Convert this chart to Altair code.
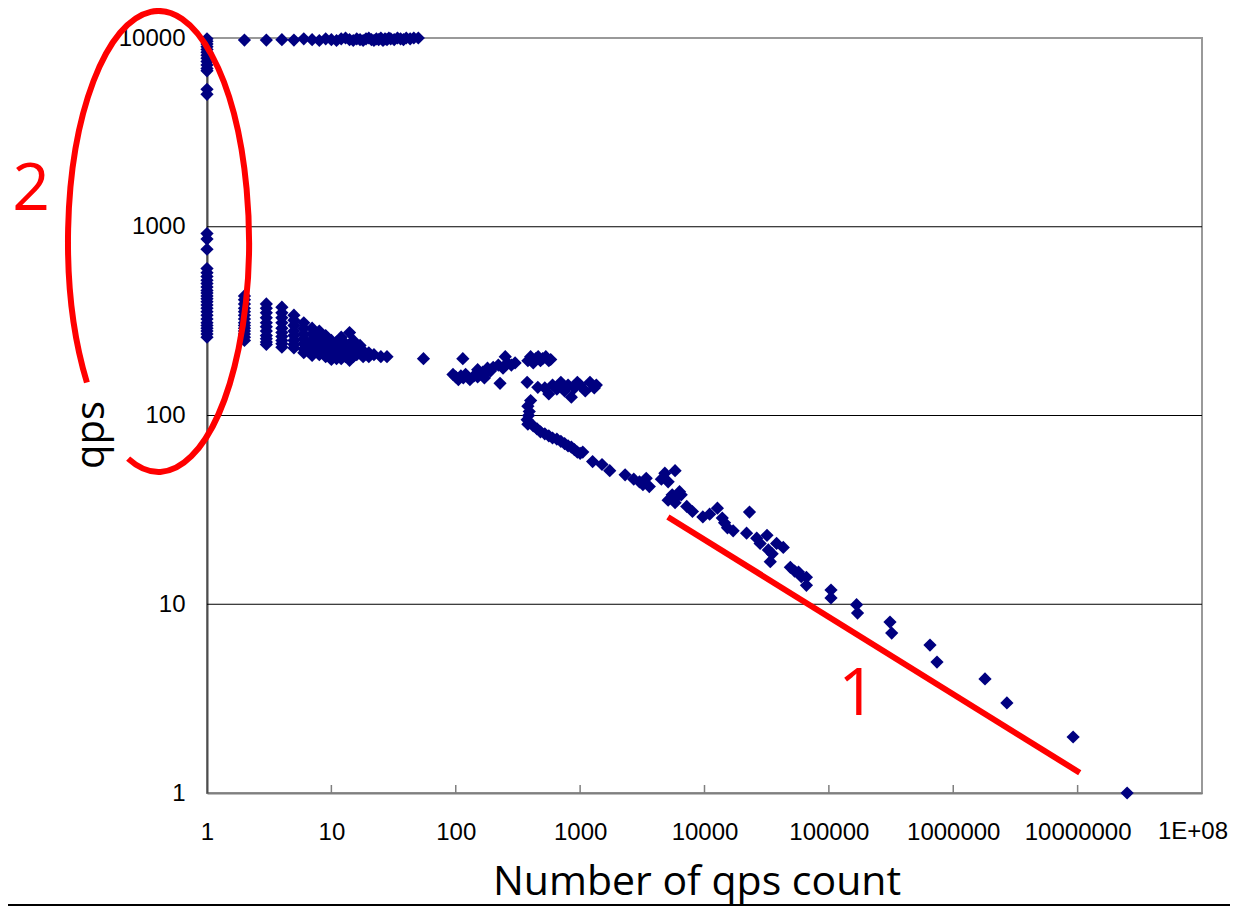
import altair as alt
import pandas as pd

# ---------------- data ----------------
# top band (qps near 10000)
top_x = [1, 1, 1, 1, 1, 1, 1, 1, 1, 1, 1, 1, 1, 1,
         2, 3, 4, 5, 6, 7, 8, 9, 10, 11, 12, 13, 14, 15, 16, 17, 18, 19, 20,
         21, 22, 23, 24, 25, 26, 27, 28, 29, 30, 32, 34, 36, 38, 40, 43, 46, 50]
top_y = [9900, 9600, 9300, 9000, 8700, 8400, 8100, 7800, 7500, 7200, 6900, 6700, 5350, 5030,
         9750, 9750, 9800, 9750, 9900, 9800, 9700, 9900, 9800, 9700, 9900, 10000, 9800, 9700, 9900, 9800, 9700, 9900, 10000,
         9800, 9700, 9900, 9800, 10000, 9700, 9900, 9800, 10000, 9900, 9800, 10000, 9900, 9800, 10000, 9900, 10000, 10000]

# low-count band (count 1 .. 55)
low_x = ([1] * 25 + [2] * 14 + [3] * 11 + [4] * 10 + [5] * 8 + [6] * 7 + [7] * 6 + [8] * 5
         + [9] * 5 + [10] * 5 + [11] * 4 + [12] * 4 + [13] * 3 + [14] * 4 + [15] * 3
         + [16] * 2 + [17] * 2 + [18] * 2 + [20] * 2 + [22, 25, 28, 55])
low_y = ([920, 860, 760, 600, 570, 545, 520, 500, 480, 460, 445, 430, 415, 400, 385, 370, 355, 340,
          325, 310, 300, 290, 280, 270, 260]
         + [430, 410, 390, 370, 355, 340, 325, 310, 300, 290, 280, 270, 260, 250]
         + [390, 370, 350, 330, 310, 295, 280, 265, 255, 245, 238]
         + [375, 350, 330, 310, 290, 275, 262, 250, 240, 230]
         + [340, 320, 300, 280, 265, 250, 238, 228]
         + [310, 290, 270, 255, 240, 225, 215]
         + [290, 270, 250, 235, 220, 208]
         + [280, 260, 240, 225, 210]
         + [265, 245, 230, 215, 205]
         + [250, 235, 220, 208, 198]
         + [245, 225, 210, 200]
         + [260, 235, 215, 200]
         + [240, 220, 205]
         + [275, 230, 210, 196]
         + [250, 225, 205]
         + [225, 210]
         + [235, 215]
         + [220, 205]
         + [215, 205]
         + [210, 205, 205, 200])

# middle region (count 100 .. 1400)
mid_x = [114, 95, 100, 105, 110, 115, 120, 125, 130, 140, 150, 160, 170, 180, 190,
         150, 165, 180, 200, 220, 240, 260, 280, 300, 250, 227, 375, 457,
         380, 400, 420, 440, 460, 480, 500, 530, 560, 580,
         520, 560, 600, 650, 700, 750, 800, 850, 900, 950, 1000, 1100, 1200, 1300, 1350,
         400, 380, 390, 385, 375, 380, 420, 450, 480, 520, 560, 600, 650, 700, 750, 800,
         850, 900, 950, 1000]
mid_y = [200, 165, 160, 155, 162, 158, 165, 160, 155, 162, 160, 165, 158, 170, 172,
         175, 170, 178, 180, 185, 178, 190, 185, 190, 205, 148, 150, 141,
         195, 205, 190, 200, 205, 195, 200, 205, 195, 198,
         140, 130, 145, 138, 150, 135, 145, 125, 140, 150, 145, 135, 150, 140, 145,
         120, 112, 105, 100, 95, 90, 88, 85, 82, 80, 78, 76, 75, 73, 71, 69,
         68, 66, 64, 63]

# tail (count above 1000)
tail_x = [1050, 1260, 1500, 1730, 2300, 2700, 3000, 3200, 3400, 3600, 4500, 4800, 5800, 5100,
          6300, 5100, 5800, 5500, 6000, 6500, 7200, 8000, 9700, 11000, 12700, 13900, 14500,
          15300, 17000, 23000, 21800, 26300, 28000, 31800, 32600, 33800, 35000, 38000, 43000,
          49000, 53000, 57000, 60000, 66000, 66000, 104000, 104000, 167000, 170000, 310000,
          320000, 650000, 740000, 1800000, 2700000, 9200000, 25000000]
tail_y = [64, 57, 55, 51, 48.5, 46, 44.5, 43, 46.5, 42, 46, 49.5, 51, 44.5,
          39.5, 35.6, 34.5, 38, 37, 38, 33, 31, 29, 30, 32.3, 28.6, 27,
          25.4, 24.5, 30.8, 23.8, 22.4, 21, 23.2, 19.4, 16.8, 18.5, 21, 20,
          15.7, 15, 14.8, 14, 13.9, 12.6, 11.9, 10.8, 9.95, 8.98, 8.05,
          7.04, 6.08, 4.94, 4.02, 3, 1.98, 1]

x_ticks = [1, 10, 100, 1000, 10000, 100000, 1000000, 10000000, 100000000]
y_ticks = [1, 10, 100, 1000, 10000]
grid_y = [10, 100, 1000]
inner_ticks = [10, 100, 1000, 10000, 100000, 1000000, 10000000]
last_x_label = ["1E+08"]

# annotation line "1" endpoints in data units
line1_x = [5080, 10400000]
line1_y = [29, 1.28]

points = pd.DataFrame({
    "count": top_x + low_x + mid_x + tail_x,
    "qps": top_y + low_y + mid_y + tail_y,
})

W, H = 995, 755
FONT = "Open Sans"
LFONT = "Liberation Sans"

xscale = alt.Scale(type="log", domain=[1, 1e8])
yscale = alt.Scale(type="log", domain=[1, 10000])

base = alt.Chart(points)

scatter = base.mark_point(
    shape="diamond", filled=True, color="#000080", size=175, opacity=1
).encode(
    x=alt.X("count:Q", scale=xscale,
            axis=alt.Axis(values=x_ticks, title=None, grid=False, ticks=False, tickSize=0,
                          labelPadding=27, labelBaseline="top",
                          labelExpr="datum.value >= 1e8 ? '' : format(datum.value, 'd')",
                          domainColor="#7f7f7f", domainWidth=2, labelFlush=False,
                          labelOverlap=False, labelFont=LFONT,
                          labelFontSize=24, labelColor="black")),
    y=alt.Y("qps:Q", scale=yscale,
            axis=alt.Axis(values=y_ticks, title=None, grid=False, ticks=False, tickSize=0,
                          labelPadding=22, format="d", domainColor="#4d4d4d",
                          domainWidth=2, labelFlush=False, labelOverlap=False,
                          labelFont=LFONT, labelFontSize=24, labelColor="black")),
)

# last x label drawn as text so that it stays inside the page
last_label = alt.Chart(pd.DataFrame({"t": last_x_label})).mark_text(
    font=LFONT, fontSize=24, color="black", align="center", baseline="top"
).encode(text="t:N", x=alt.value(W - 9), y=alt.value(H + 27))

grid = alt.Chart(pd.DataFrame({"g": grid_y})).mark_rule(color="black", strokeWidth=1).encode(
    y=alt.Y("g:Q", scale=yscale)
)

ticks = alt.Chart(pd.DataFrame({"t": inner_ticks})).mark_rule(color="#7f7f7f", strokeWidth=1.5).encode(
    x=alt.X("t:Q", scale=xscale), y=alt.value(H), y2=alt.value(H - 8)
)

line1 = alt.Chart(pd.DataFrame({"lx": line1_x, "ly": line1_y})).mark_line(
    color="#ff0000", strokeWidth=6, strokeCap="butt"
).encode(x=alt.X("lx:Q", scale=xscale), y=alt.Y("ly:Q", scale=yscale))

# red ellipse (with a gap at lower left), as a custom symbol path
ellipse_path = "M -0.3106 0.6117 A 0.3926 1 0 1 1 -0.1317 0.942"
ellipse = alt.Chart(pd.DataFrame({"a": [0]})).mark_point(
    shape=ellipse_path, filled=False, stroke="#ff0000", strokeWidth=6, size=212521, opacity=1
).encode(x=alt.value(-48.5), y=alt.value(203.5))

label1 = alt.Chart(pd.DataFrame({"t": ["1"]})).mark_text(
    font=FONT, fontSize=66, color="#ff0000", align="center", baseline="alphabetic"
).encode(text="t:N", x=alt.value(650), y=alt.value(677))

label2 = alt.Chart(pd.DataFrame({"t": ["2"]})).mark_text(
    font=FONT, fontSize=66, color="#ff0000", align="center", baseline="alphabetic"
).encode(text="t:N", x=alt.value(-176), y=alt.value(172))

xtitle = alt.Chart(pd.DataFrame({"t": ["Number of qps count"]})).mark_text(
    font=FONT, fontSize=41, color="black", align="center", baseline="alphabetic"
).encode(text="t:N", x=alt.value(490), y=alt.value(857))

ytitle = alt.Chart(pd.DataFrame({"t": ["qps"]})).mark_text(
    font=FONT, fontSize=40, color="black", align="center", baseline="alphabetic", angle=270
).encode(text="t:N", x=alt.value(-103), y=alt.value(397))

bottom_rule = alt.Chart(pd.DataFrame({"a": [0]})).mark_rule(color="black", strokeWidth=2).encode(
    x=alt.value(-207), x2=alt.value(1031), y=alt.value(867)
)

chart = alt.layer(
    grid, ticks, scatter, last_label, line1, ellipse, label1, label2, xtitle, ytitle, bottom_rule
).properties(
    width=W, height=H,
    autosize=alt.AutoSizeParams(type="none"),
    padding={"left": 199, "top": 30, "right": 28, "bottom": 116},
    background="white",
).configure_view(
    stroke="#999999", strokeWidth=2
).configure_axis(
    labelFont=LFONT, labelFontSize=24, labelColor="black"
)

chart.save("out.html", embed_options={"renderer": "svg", "actions": False})
